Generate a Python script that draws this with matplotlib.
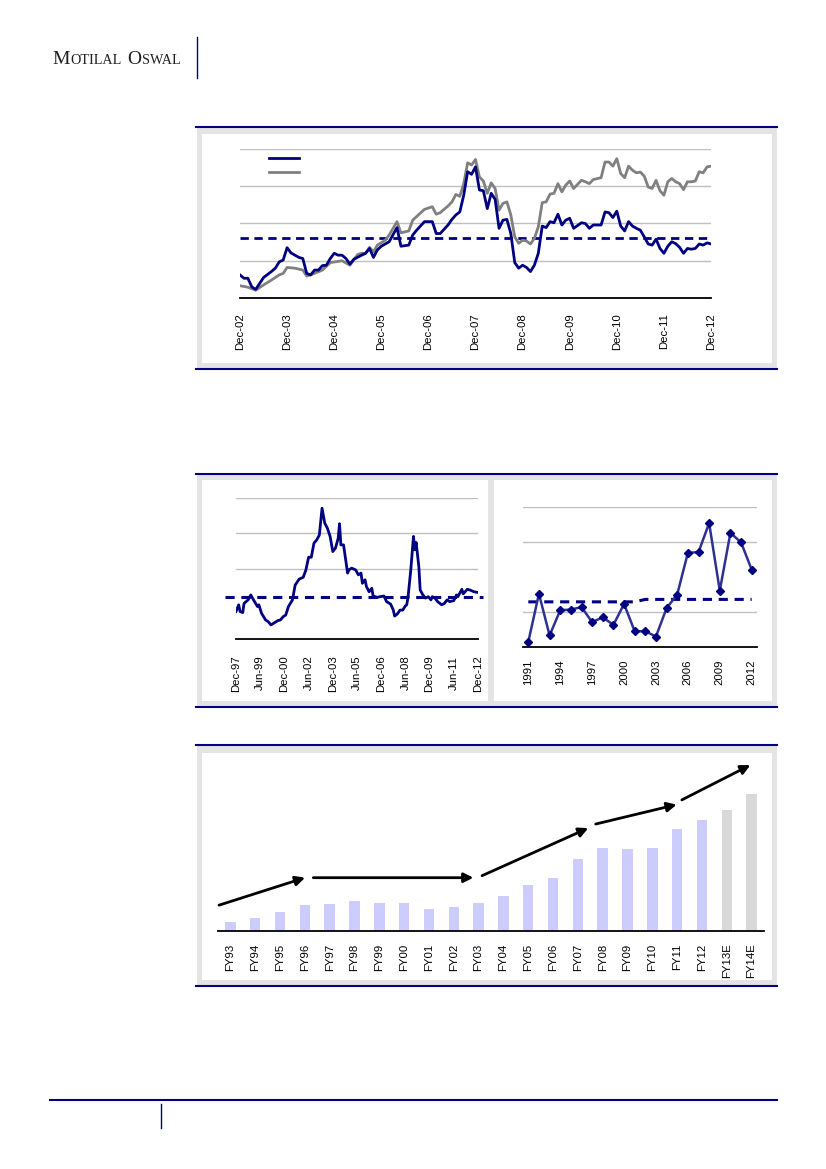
import matplotlib
matplotlib.use("Agg")
import matplotlib.pyplot as plt
from matplotlib.patches import Rectangle
from matplotlib.lines import Line2D

W, H = 826, 1169
NAVY = '#000080'

# chart 1: monthly, month 0 = Dec-02
blue_m = [0, 1, 2, 3, 4, 5, 6, 8, 9, 10, 11, 12, 13, 14, 15, 16, 17, 18, 19, 20,
          21, 22, 23, 24, 25, 26, 27, 28, 29, 31, 32, 33, 34, 35, 36, 38, 40, 41, 43, 44,
          45, 47, 49, 50, 51, 53, 54, 55, 56, 57, 58, 59, 60, 61, 62, 63, 64, 65, 66, 67,
          68, 69, 70, 71, 72, 73, 74, 75, 76, 77, 78, 79, 80, 81, 82, 83, 84, 85, 87, 88,
          89, 90, 92, 93, 94, 95, 96, 97, 98, 99, 100, 101, 102, 103, 104, 105, 106, 107,
          108, 109, 110, 111, 112, 113, 114, 115, 116, 117, 118, 119, 120]
blue_v = [0.62, 0.53, 0.53, 0.30, 0.23, 0.39, 0.55, 0.71, 0.80, 0.97, 1.02, 1.35, 1.21,
          1.15, 1.09, 1.06, 0.66, 0.62, 0.75, 0.75, 0.87, 0.88, 1.06, 1.20, 1.15, 1.15,
          1.06, 0.91, 1.04, 1.15, 1.20, 1.33, 1.09, 1.29, 1.39, 1.51, 1.89, 1.39, 1.42,
          1.69, 1.82, 2.05, 2.05, 1.73, 1.73, 1.96, 2.11, 2.23, 2.31, 2.76, 3.39, 3.32,
          3.52, 2.90, 2.88, 2.40, 2.81, 2.65, 1.87, 2.09, 2.11, 1.73, 0.95, 0.80, 0.88,
          0.82, 0.71, 0.88, 1.20, 1.93, 1.89, 2.05, 2.02, 2.25, 1.96, 2.09, 2.14, 1.87,
          2.02, 2.00, 1.87, 1.96, 1.96, 2.31, 2.29, 2.16, 2.33, 1.93, 1.80, 2.05, 1.93,
          1.87, 1.82, 1.64, 1.45, 1.42, 1.58, 1.33, 1.20, 1.39, 1.51, 1.46, 1.36, 1.20,
          1.33, 1.31, 1.33, 1.45, 1.42, 1.48, 1.45]
gray_m = [0, 2, 4, 6, 8, 10, 11, 12, 14, 16, 17, 18, 21, 23, 26, 28, 30, 31, 32, 33,
          34, 35, 37, 38, 40, 41, 43, 44, 47, 49, 50, 51, 53, 54, 55, 56, 57, 58, 59, 60,
          61, 62, 63, 64, 65, 66, 67, 68, 69, 70, 71, 72, 73, 74, 75, 76, 77, 78, 79, 80,
          81, 82, 83, 84, 85, 87, 88, 89, 90, 92, 93, 94, 95, 96, 97, 98, 99, 100, 101,
          102, 103, 104, 105, 106, 107, 108, 109, 110, 111, 112, 113, 114, 115, 116, 117,
          118, 119, 120]
gray_v = [0.33, 0.29, 0.21, 0.35, 0.48, 0.62, 0.66, 0.82, 0.80, 0.75, 0.59, 0.62, 0.75,
          0.95, 1.00, 0.88, 1.17, 1.20, 1.20, 1.36, 1.24, 1.42, 1.55, 1.69, 2.05, 1.75,
          1.80, 2.09, 2.38, 2.45, 2.25, 2.29, 2.47, 2.58, 2.78, 2.73, 3.07, 3.63, 3.57,
          3.72, 3.25, 3.14, 2.81, 3.09, 2.94, 2.36, 2.54, 2.58, 2.23, 1.64, 1.47, 1.55,
          1.53, 1.45, 1.60, 1.91, 2.56, 2.58, 2.79, 2.81, 3.07, 2.85, 3.03, 3.14, 2.94,
          3.16, 3.12, 3.07, 3.18, 3.23, 3.65, 3.65, 3.54, 3.74, 3.34, 3.23, 3.54, 3.43,
          3.36, 3.38, 3.27, 2.98, 2.94, 3.16, 2.88, 2.76, 3.12, 3.21, 3.12, 3.07, 2.91,
          3.12, 3.12, 3.14, 3.39, 3.36, 3.52, 3.54]
avg1 = 1.6
labels1 = ['Dec-02', 'Dec-03', 'Dec-04', 'Dec-05', 'Dec-06', 'Dec-07', 'Dec-08',
           'Dec-09', 'Dec-10', 'Dec-11', 'Dec-12']

# chart 2 left: monthly, month 0 = Dec-97
left_m = [0, 2, 3, 5, 6, 9, 11, 13, 16, 17, 19, 22, 24, 26, 29, 31, 33, 35, 37, 39,
          42, 44, 47, 50, 52, 54, 56, 58, 60, 62, 64, 66, 68, 70, 72, 74, 76, 77, 78, 80,
          83, 84, 86, 89, 91, 93, 94, 96, 97, 99, 101, 102, 105, 107, 110, 112, 115, 117,
          118, 120, 122, 124, 126, 127, 128, 130, 131, 132, 133, 134, 136, 137, 139, 141,
          143, 145, 146, 148, 150, 153, 155, 157, 159, 162, 164, 165, 168, 169, 172, 174,
          177, 180]
left_v = [0.78, 0.97, 0.78, 0.75, 1.01, 1.11, 1.25, 1.11, 0.92, 0.97, 0.73, 0.54, 0.49,
          0.40, 0.47, 0.52, 0.54, 0.63, 0.68, 0.92, 1.11, 1.53, 1.70, 1.75, 1.96, 2.32,
          2.32, 2.72, 2.81, 2.95, 3.71, 3.29, 3.14, 2.91, 2.48, 2.58, 2.86, 3.27, 2.67,
          2.67, 1.87, 1.96, 2.01, 1.96, 1.82, 1.87, 1.58, 1.68, 1.49, 1.34, 1.44, 1.22,
          1.18, 1.20, 1.22, 1.06, 0.99, 0.82, 0.65, 0.71, 0.82, 0.82, 0.94, 0.97, 1.20,
          1.96, 2.43, 2.91, 2.53, 2.74, 2.05, 1.39, 1.25, 1.16, 1.20, 1.11, 1.20, 1.16,
          1.06, 0.97, 1.01, 1.11, 1.06, 1.09, 1.25, 1.20, 1.41, 1.28, 1.41, 1.39, 1.34,
          1.32]
avg2 = 1.2
labels2 = ['Dec-97', 'Jun-99', 'Dec-00', 'Jun-02', 'Dec-03', 'Jun-05', 'Dec-06',
           'Jun-08', 'Dec-09', 'Jun-11', 'Dec-12']

# chart 2 right: yearly
years = list(range(1991, 2013))
yearly = [0.15, 1.52, 0.33, 1.05, 1.07, 1.14, 0.71, 0.85, 0.63, 1.23, 0.45, 0.45, 0.30,
          1.11, 1.50, 2.69, 2.71, 3.54, 1.61, 3.26, 2.99, 2.21]
yearly_avg = [1.29] * 11 + [1.36] * 11

# chart 3: bars
fy = ['FY93', 'FY94', 'FY95', 'FY96', 'FY97', 'FY98', 'FY99', 'FY00', 'FY01', 'FY02',
      'FY03', 'FY04', 'FY05', 'FY06', 'FY07', 'FY08', 'FY09', 'FY10', 'FY11', 'FY12',
      'FY13E', 'FY14E']
bars = [27, 39, 56, 77, 80, 89, 83, 83, 65, 71, 83, 105, 137, 158, 214, 248, 245, 248,
        305, 332, 360, 410]
# trend arrows: (x start, y start, x end, y end) in category / bar units
arrows = [(-0.46, 77, 3.01, 159), (3.34, 159, 9.79, 159), (10.14, 165, 14.42, 307),
          (14.72, 319, 17.98, 377), (18.19, 391, 20.95, 495)]

fig = plt.figure(figsize=(W / 100, H / 100), dpi=100)
fig.patch.set_facecolor('white')
plt.rcParams['font.family'] = ['Liberation Sans', 'DejaVu Sans']


def rect(x0, y0, x1, y1, color):
    fig.add_artist(Rectangle((x0 / W, 1 - y1 / H), (x1 - x0) / W, (y1 - y0) / H,
                             transform=fig.transFigure, facecolor=color,
                             edgecolor='none', zorder=-5))


def hline(x0, x1, y, lw=1.5):
    fig.add_artist(Line2D([x0 / W, x1 / W], [1 - y / H, 1 - y / H],
                          transform=fig.transFigure, color=NAVY, lw=lw))


def vline(x, y0, y1, lw=1.0):
    fig.add_artist(Line2D([x / W, x / W], [1 - y0 / H, 1 - y1 / H],
                          transform=fig.transFigure, color=NAVY, lw=lw))


def px_axes(x0, y0, x1, y1):
    ax = fig.add_axes([x0 / W, 1 - y1 / H, (x1 - x0) / W, (y1 - y0) / H])
    ax.set_facecolor('none')
    for s in ['top', 'right', 'left']:
        ax.spines[s].set_visible(False)
    ax.spines['bottom'].set_color('black')
    ax.spines['bottom'].set_linewidth(1.3)
    ax.tick_params(length=0, labelsize=8.2)
    ax.set_yticklabels([])
    return ax


GRAYBG = '#e4e4e4'

# panel frames
rect(197, 127, 777, 368, GRAYBG)
rect(202, 134, 772, 363, 'white')
hline(196, 777, 126.5)
hline(196, 777, 369)

rect(197, 475, 777, 706, GRAYBG)
rect(202, 480, 488, 701, 'white')
rect(494, 480, 772, 701, 'white')
hline(196, 777, 474)
hline(196, 777, 707)

rect(197, 746, 777, 985, GRAYBG)
rect(202, 753, 772, 980, 'white')
hline(196, 777, 745)
hline(196, 777, 986)

# header and footer
x = 52
for s, size in [('M', 14), ('OTILAL', 10.2), ('O', 14), ('SWAL', 10.2)]:
    t = fig.text(x / W, 1 - 64 / H, s, fontsize=size, family='Liberation Serif',
                 va='baseline', color='#231f20')
    bb = t.get_window_extent(fig.canvas.get_renderer())
    x += bb.width + (6 if s == 'OTILAL' else 0.5)
vline(197, 37, 78)
hline(50, 777, 1100)
vline(161, 1104, 1128)

# chart 1
ax1 = px_axes(240, 149, 711, 298)
ax1.plot(blue_m, blue_v, color=NAVY, lw=2, label=' ', zorder=4)
ax1.plot(gray_m, gray_v, color='#808080', lw=2, label=' ', zorder=3)
ax1.axhline(avg1, color=NAVY, lw=2, dashes=(3, 2), zorder=2)
ax1.set_xlim(0, 120)
ax1.set_ylim(0, 4)
ax1.set_yticks([1, 2, 3, 4])
ax1.grid(axis='y', color='#c0c0c0', lw=1)
ax1.set_axisbelow(True)
ax1.set_xticks(range(0, 121, 12))
ax1.set_xticklabels(labels1, rotation=90)
ax1.tick_params(axis='x', pad=11)
ax1.legend(loc='upper left', bbox_to_anchor=(0.062, 0.965), frameon=False,
           handlelength=2.7, borderpad=0, borderaxespad=0, labelspacing=0.35,
           handletextpad=0.3, fontsize=8)

# chart 2 left
ax2 = px_axes(236, 498, 478, 639)
ax2.plot(left_m, left_v, color=NAVY, lw=2, zorder=3)
ax2.axhline(avg2, xmin=-0.045, xmax=1.02, color=NAVY, lw=2.2, dashes=(3, 2.2),
            clip_on=False, zorder=2)
ax2.set_xlim(0, 180)
ax2.set_ylim(0, 4)
ax2.set_yticks([2, 3, 4])
ax2.grid(axis='y', color='#c0c0c0', lw=1)
ax2.set_axisbelow(True)
ax2.set_xticks(range(0, 181, 18))
ax2.set_xticklabels(labels2, rotation=90)
ax2.tick_params(axis='x', pad=12)

# chart 2 right
ax3 = px_axes(523, 507, 757, 647)
pos = range(len(years))
ax3.plot(pos, yearly, color='#2e3192', lw=1.8, marker='D', markersize=4.2,
         markerfacecolor=NAVY, markeredgecolor=NAVY, zorder=3)
ax3.plot(pos, yearly_avg, color=NAVY, lw=2.2, dashes=(3, 2.2), zorder=2)
ax3.set_xlim(-0.5, 21.5)
ax3.set_ylim(0, 4)
ax3.set_yticks([1, 3, 4])
ax3.grid(axis='y', color='#c0c0c0', lw=1)
ax3.set_axisbelow(True)
ax3.set_xticks(list(pos)[::3])
ax3.set_xticklabels([str(y) for y in years[::3]], rotation=90)
ax3.tick_params(axis='x', pad=9)

# chart 3
ax4 = px_axes(218, 760, 764, 931)
colors = ['#ccccff' if not f.endswith('E') else '#d9d9d9' for f in fy]
ax4.bar(range(len(fy)), bars, width=0.42, color=colors)
ax4.set_xlim(-0.5, 21.5)
ax4.set_ylim(0, 510)
ax4.set_yticks([])
ax4.set_xticks(range(len(fy)))
ax4.set_xticklabels(fy, rotation=90)
ax4.tick_params(axis='x', pad=9)
for x0, y0, x1, y1 in arrows:
    ax4.annotate('', xy=(x1, y1), xytext=(x0, y0),
                 arrowprops=dict(arrowstyle='-|>', color='black', lw=2,
                                 mutation_scale=14, shrinkA=0, shrinkB=0),
                 annotation_clip=False)

fig.savefig('out.png', dpi=100)
